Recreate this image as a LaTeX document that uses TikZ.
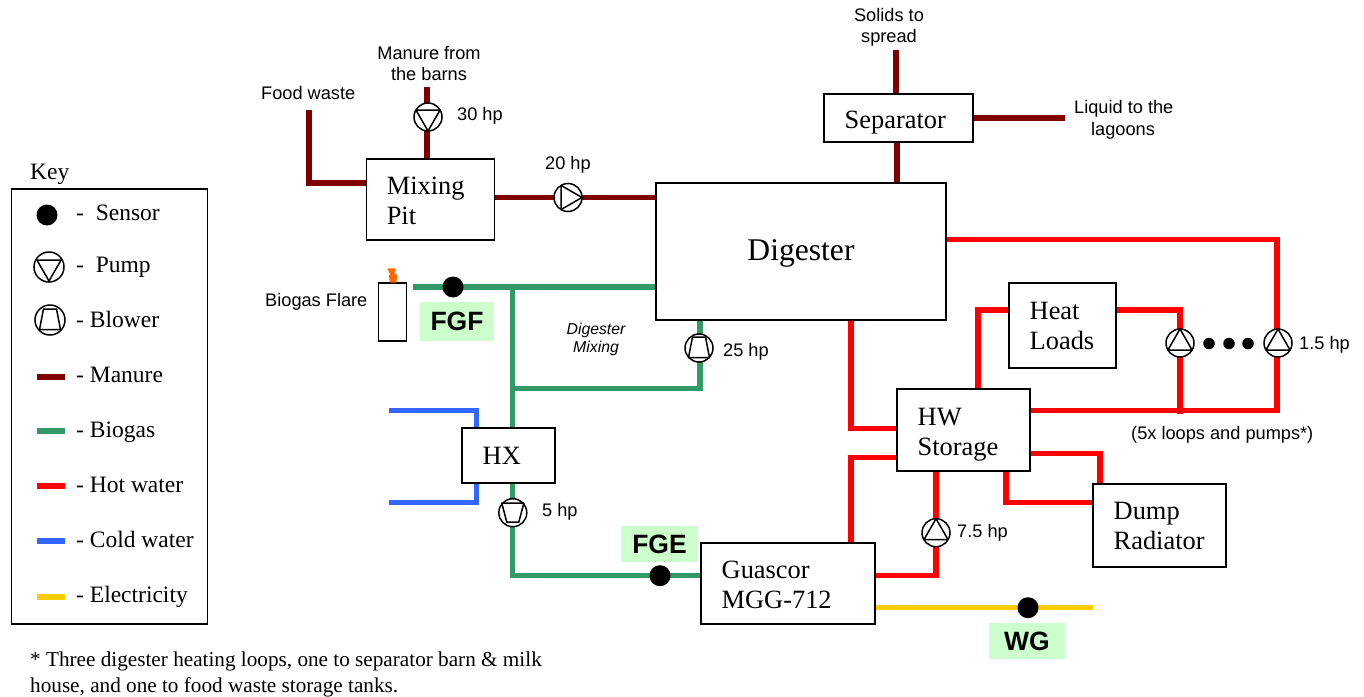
\documentclass[tikz,border=0pt]{standalone}
\usepackage{fontspec}
\setmainfont{Liberation Serif}
\setsansfont{Liberation Sans}
\usetikzlibrary{backgrounds}
\definecolor{manurec}{HTML}{800000}
\definecolor{biogasc}{HTML}{339966}
\definecolor{hotc}{HTML}{FF0000}
\definecolor{coldc}{HTML}{3366FF}
\definecolor{elecc}{HTML}{FFCC00}
\definecolor{tagc}{HTML}{CCFFCC}
\definecolor{flamec}{HTML}{FF6600}
\tikzset{
  pipe/.style={line width=5.3pt,line cap=butt,line join=miter},
  manure/.style={pipe,draw=manurec},
  biogas/.style={pipe,draw=biogasc},
  hot/.style={pipe,draw=hotc},
  cold/.style={pipe,draw=coldc},
  elec/.style={pipe,draw=elecc},
  boxfont/.style={font=\fontsize{26.4}{30}\selectfont},
  stdbox/.style n args={2}{draw=black,line width=1.6pt,fill=white,outer sep=0pt,boxfont,
    minimum width=#1,minimum height=#2,inner ysep=0pt,inner xsep=20.5pt,text width=#1-41pt,align=flush left},
  plainbox/.style n args={2}{draw=black,line width=1.6pt,fill=white,outer sep=0pt,
    minimum width=#1,minimum height=#2,inner sep=0pt},
  lab/.style={anchor=base west,inner sep=0pt,font=\sffamily\fontsize{18.2}{21}\selectfont},
  labc/.style={anchor=base,inner sep=0pt,font=\sffamily\fontsize{18.2}{21}\selectfont},
  keytext/.style={anchor=base west,inner sep=0pt,font=\fontsize{23.5}{28}\selectfont},
  foot/.style={anchor=base west,inner sep=0pt,font=\fontsize{21.2}{24}\selectfont},
  tag/.style={fill=tagc,inner sep=0pt,minimum width=76pt,minimum height=38pt,
    font=\sffamily\bfseries\fontsize{26.5}{30}\selectfont},
  sensor/.style={circle,fill=black,inner sep=0pt,minimum size=21pt},
  dotmark/.style={circle,fill=black,inner sep=0pt,minimum size=11.5pt},
  wheel/.style={circle,draw=black,fill=white,line width=1.5pt,inner sep=0pt,minimum size=28pt,outer sep=0pt},
  glyph/.style={draw=black,line width=1.5pt,line join=round},
}
\newcommand{\lowered}[2]{\raisebox{-#1}[\height][\depth]{#2}}
\newcommand{\pumpup}[1]{\draw[glyph,shift={(#1.center)}] (0,-14) -- (12.1,7) -- (-12.1,7) -- cycle;}
\newcommand{\pumpdown}[1]{\draw[glyph,shift={(#1.center)}] (0,14) -- (12.1,-7) -- (-12.1,-7) -- cycle;}
\newcommand{\pumpright}[1]{\draw[glyph,shift={(#1.center)}] (14,0) -- (-7,-12.1) -- (-7,12.1) -- cycle;}
\newcommand{\blowup}[1]{\draw[glyph,shift={(#1.center)}] (-6.5,-11) -- (6.5,-11) -- (10.5,9.5) -- (-10.5,9.5) -- cycle;}
\newcommand{\blowdown}[1]{\draw[glyph,shift={(#1.center)}] (-6,9.5) -- (6,9.5) -- (11,-9.5) -- (-11,-9.5) -- cycle;}
\begin{document}
\begin{tikzpicture}[x=1pt,y=-1pt]
\useasboundingbox (0,0) rectangle (1364,696);

% ---- boxes
\node[stdbox={128pt}{81pt}] (mix) at (430.3,199.7) {\lowered{1pt}{Mixing}\\\lowered{1pt}{Pit}};
\node[stdbox={149pt}{48pt}] (sep) at (898.7,118) {\lowered{5pt}{Separator}};
\node[plainbox={290pt}{137pt},font=\fontsize{31.6}{36}\selectfont] (dig) at (801.2,251.7) {};
\node[anchor=base,inner sep=0pt,font=\fontsize{31.6}{36}\selectfont] (digt) at (801,260) {Digester};
\node[stdbox={107pt}{85pt}] (heat) at (1062.7,325.7) {Heat\\Loads};
\node[stdbox={133pt}{82pt}] (hw) at (963.7,430) {\lowered{5pt}{HW}\\\lowered{5pt}{Storage}};
\node[stdbox={93pt}{55pt}] (hx) at (508.7,455.7) {HX};
\node[stdbox={133pt}{83pt}] (dump) at (1159.7,525.7) {Dump\\Radiator};
\node[stdbox={174pt}{81pt}] (gen) at (788.2,583.7) {\lowered{1pt}{Guascor}\\\lowered{1pt}{MGG-712}};
\node[plainbox={28pt}{58pt}] (flare) at (392.6,312) {};
\fill[flamec] (387.5,268.5) -- (395.5,268.3) -- (394.5,274) -- (397.2,274.5) -- (396.5,282.5) -- (390,282.5) -- (388.8,275) -- (390.3,275) -- cycle;

% ---- tags
\node[tag,minimum width=74pt,minimum height=39pt] (fgf) at (457,321.5) {FGF};
\node[tag,minimum width=77pt,minimum height=36pt] (fge) at (659.5,544) {FGE};
\node[tag,minimum width=76pt,minimum height=36pt] (wg) at (1027,641) {WG};

% ---- pumps, blowers, sensors
\node[wheel] (p30) at (428,117) {}; \pumpdown{p30}
\node[wheel] (p20) at (568,197.5) {}; \pumpright{p20}
\node[wheel] (b25) at (699,348) {}; \blowup{b25}
\node[wheel] (b5) at (512.8,512.7) {}; \blowdown{b5}
\node[wheel] (p75) at (936,532.7) {}; \pumpup{p75}
\node[wheel] (pa) at (1180,343) {}; \pumpup{pa}
\node[wheel] (pb) at (1278,343) {}; \pumpup{pb}
\node[sensor] (sfgf) at (453,287) {};
\node[sensor] (sfge) at (660,575.7) {};
\node[sensor] (swg) at (1028,607.7) {};
\node[dotmark] (d1) at (1209,343.5) {};
\node[dotmark] (d2) at (1229,343.5) {};
\node[dotmark] (d3) at (1248,343.5) {};

% ---- free ends and junctions
\coordinate (foodtop) at (309,110);
\coordinate (barn) at (427,87);
\coordinate (solids) at (896,50);
\coordinate (liquid) at (1065,118);
\coordinate (flareout) at (413,287);
\coordinate (gasj) at (512.8,287);
\coordinate (gasm) at (512.8,388.7);
\coordinate (coldin) at (389,410.7);
\coordinate (coldout) at (389,502.7);

\begin{scope}[on background layer]
  % manure
  \draw[manure] (foodtop) |- (mix.west |- 0,183);
  \draw[manure] (barn) -- (barn |- p30.north);
  \draw[manure] (barn |- p30.south) -- (barn |- mix.north);
  \draw[manure] (mix.east |- p20) -- (p20.west);
  \draw[manure] (p20.east) -- (dig.west |- p20);
  \draw[manure] (solids) -- (solids |- sep.north);
  \draw[manure] (sep.east) -- (liquid);
  \draw[manure] (897,142) -- (897,183);
  % biogas
  \draw[biogas] (flareout) -- (dig.west |- flareout);
  \draw[biogas] (gasj) -- (gasj |- hx.north);
  \draw[biogas] (gasm) -| (700,362);
  \draw[biogas] (700,334) -- (700,320);
  \draw[biogas] (512.8,483) -- (b5.north);
  \draw[biogas] (b5.south) |- (gen.west |- sfge);
  % cold water
  \draw[cold] (coldin) -| (476.5,428);
  \draw[cold] (coldout) -| (476.5,483);
  % hot water
  \draw[hot] (dig.east |- 0,239.5) -| (1277,330);
  \draw[hot] (1277,357) |- (hw.east |- 0,410.7);
  \draw[hot] (heat.east |- 0,310) -| (pa.north);
  \draw[hot] (pa.south) -- (1180,414);
  \draw[hot] (heat.west |- 0,310) -| (978,389);
  \draw[hot] (851,320) |- (hw.west |- 0,428.7);
  \draw[hot] (hw.west |- 0,457.3) -| (851,543);
  \draw[hot] (936,471) -- (p75.north);
  \draw[hot] (p75.south) |- (gen.east |- 0,575.7);
  \draw[hot] (hw.east |- 0,453.5) -| (1100,484);
  \draw[hot] (1006,471) |- (dump.west |- 0,502.3);
  % electricity
  \draw[elec] (gen.east |- swg) -- (dump.west |- swg);
\end{scope}

% ---- labels
\node[lab] (tfood) at (261,99) {Food waste};
\node[labc] (tman1) at (429,59) {Manure from};
\node[labc] (tman2) at (429,80) {the barns};
\node[lab] (t30) at (457,120) {30 hp};
\node[lab] (t20) at (545,169) {20 hp};
\node[labc] (tsol1) at (889,21) {Solids to};
\node[labc] (tsol2) at (889,42) {spread};
\node[lab] (tliq1) at (1074,113) {Liquid to the};
\node[labc] (tliq2) at (1123,135) {lagoons};
\node[lab] (tflare) at (265,306) {Biogas Flare};
\node[anchor=base,inner sep=0pt,font=\sffamily\itshape\fontsize{15.8}{18}\selectfont] (tdm1) at (596,334) {Digester};
\node[anchor=base,inner sep=0pt,font=\sffamily\itshape\fontsize{15.8}{18}\selectfont] (tdm2) at (596,352) {Mixing};
\node[lab] (t25) at (723,356) {25 hp};
\node[lab] (t15) at (1299,349) {1.5 hp};
\node[lab] (t5) at (542,516) {5 hp};
\node[lab] (t75) at (957,537) {7.5 hp};
\node[lab] (tloops) at (1131,439) {(5x loops and pumps*)};

% ---- key
\node[keytext] (tkey) at (30,179) {Key};
\node[plainbox={196pt}{435pt},fill=none] (keybox) at (109.3,406.7) {};
\node[sensor,minimum size=21pt] (ksens) at (47,215) {};
\node[wheel,minimum size=30pt] (kpump) at (49,267) {}; \pumpdown{kpump}
\node[wheel,minimum size=30pt] (kblow) at (50,320) {}; \blowup{kblow}
\node[keytext] (k1) at (76,220) {-\ \ Sensor};
\node[keytext] (k2) at (76,272) {-\ \ Pump};
\node[keytext] (k3) at (76,327) {- Blower};
\node[keytext] (k4) at (76,382) {- Manure};
\node[keytext] (k5) at (76,437) {- Biogas};
\node[keytext] (k6) at (76,492) {- Hot water};
\node[keytext] (k7) at (76,547) {- Cold water};
\node[keytext] (k8) at (76,602) {- Electricity};
\coordinate (ka) at (37,0); \coordinate (kb) at (65,0);
\draw[manure] (ka |- 0,377) -- (kb |- 0,377);
\draw[biogas] (ka |- 0,431) -- (kb |- 0,431);
\draw[hot] (ka |- 0,486) -- (kb |- 0,486);
\draw[cold] (ka |- 0,541) -- (kb |- 0,541);
\draw[elec] (ka |- 0,597) -- (kb |- 0,597);

% ---- footnote
\node[foot] (f1) at (30,666) {* Three digester heating loops, one to separator barn \& milk};
\node[foot] (f2) at (30,692) {house, and one to food waste storage tanks.};
\end{tikzpicture}
\end{document}
